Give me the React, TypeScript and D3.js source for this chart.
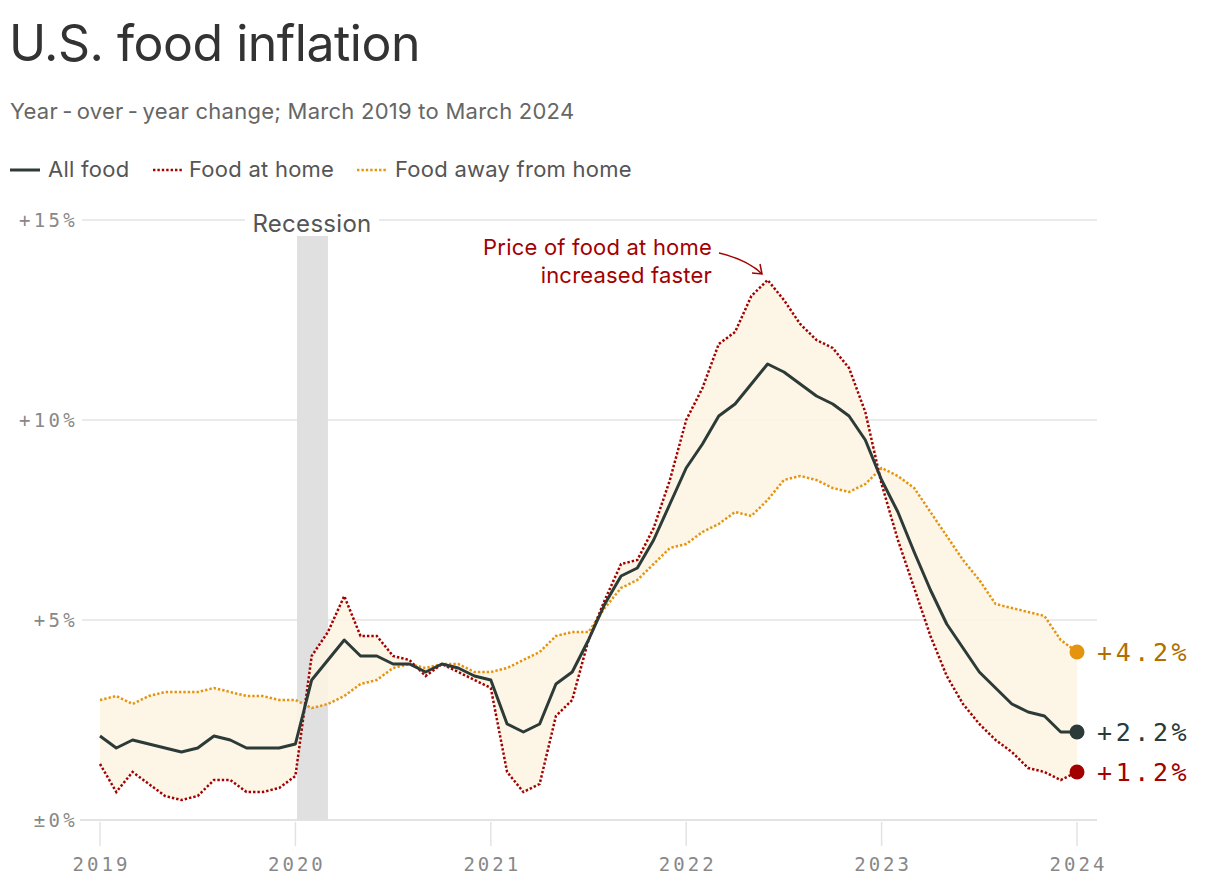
import React from "react";
import * as d3 from "d3";

const years = ["2019", "2020", "2021", "2022", "2023", "2024"];
const yTicks = [0, 5, 10, 15];
const yTickLabels = ["±0%", "+5%", "+10%", "+15%"];

// monthly, Jan 2019 .. Jan 2024 (61 points)
const allFood = [
  2.1, 1.8, 2.0, 1.9, 1.8, 1.7, 1.8, 2.1, 2.0, 1.8, 1.8, 1.8,
  1.9, 3.5, 4.0, 4.5, 4.1, 4.1, 3.9, 3.9, 3.7, 3.9, 3.8, 3.6,
  3.5, 2.4, 2.2, 2.4, 3.4, 3.7, 4.5, 5.4, 6.1, 6.3, 7.0, 7.9,
  8.8, 9.4, 10.1, 10.4, 10.9, 11.4, 11.2, 10.9, 10.6, 10.4, 10.1, 9.5,
  8.5, 7.7, 6.7, 5.75, 4.9, 4.3, 3.7, 3.3, 2.9, 2.7, 2.6, 2.2,
  2.2,
];
const foodAtHome = [
  1.4, 0.7, 1.2, 0.9, 0.6, 0.5, 0.6, 1.0, 1.0, 0.7, 0.7, 0.8,
  1.1, 4.1, 4.7, 5.6, 4.6, 4.6, 4.1, 4.0, 3.6, 3.9, 3.7, 3.5,
  3.3, 1.2, 0.7, 0.9, 2.6, 3.0, 4.5, 5.5, 6.4, 6.5, 7.3, 8.5,
  10.0, 10.8, 11.9, 12.2, 13.1, 13.5, 13.0, 12.4, 12.0, 11.8, 11.3, 10.2,
  8.4, 7.0, 5.8, 4.6, 3.6, 2.9, 2.4, 2.0, 1.7, 1.3, 1.2, 1.0,
  1.2,
];
const foodAway = [
  3.0, 3.1, 2.9, 3.1, 3.2, 3.2, 3.2, 3.3, 3.2, 3.1, 3.1, 3.0,
  3.0, 2.8, 2.9, 3.1, 3.4, 3.5, 3.8, 3.9, 3.8, 3.9, 3.9, 3.7,
  3.7, 3.8, 4.0, 4.2, 4.6, 4.7, 4.7, 5.3, 5.8, 6.0, 6.4, 6.8,
  6.9, 7.2, 7.4, 7.7, 7.6, 8.0, 8.5, 8.6, 8.5, 8.3, 8.2, 8.4,
  8.8, 8.6, 8.3, 7.7, 7.1, 6.5, 6.0, 5.4, 5.3, 5.2, 5.1, 4.5,
  4.2,
];
const seriesNames = ["All food", "Food at home", "Food away from home"];
const endLabels = ["+2.2%", "+1.2%", "+4.2%"];
const recession = [12.1, 14]; // month indices

const C_ALL = "#2c3b37";
const C_HOME = "#a30000";
const C_AWAY = "#e5940f";
const C_AWAY_TXT = "#b36e00";
const C_FILL = "#fdf3e2";

const sans = "Inter, 'Open Sans', sans-serif";
const mono = "'DejaVu Sans Mono', 'Liberation Mono', monospace";

export default function App() {
  const x = d3.scaleLinear().domain([0, 60]).range([100, 1077]);
  const y = d3.scaleLinear().domain([0, 15]).range([820, 220]);
  const idx = d3.range(61);

  const line = (arr: number[]) =>
    d3.line<number>().x((i) => x(i)).y((i) => y(arr[i]))(idx) as string;
  const area = d3
    .area<number>()
    .x((i) => x(i))
    .y0((i) => y(foodAtHome[i]))
    .y1((i) => y(foodAway[i]))(idx) as string;

  const dotted = { strokeDasharray: "2.4 2", strokeWidth: 2.5, fill: "none" };
  const legendFont = { fontFamily: sans, fontSize: 22, fill: "#555", letterSpacing: 0.25 };

  return (
    <svg
      width={1220}
      height={888}
      style={{ position: "absolute", left: 0, top: 0, background: "#fff" }}
    >
      <text x={9} y={61} fontFamily={sans} fontSize={50} fill="#333" letterSpacing={-0.5}>
        U.S. food inflation
      </text>
      <text x={10} y={119} fontFamily={sans} fontSize={22} fill="#666" letterSpacing={0.25}>
        {"Year\u2009-\u2009over\u2009-\u2009year change; March 2019 to March 2024"}
      </text>

      {/* legend */}
      <line x1={10} x2={40} y1={170} y2={170} stroke={C_ALL} strokeWidth={3} />
      <text x={48} y={177} {...legendFont}>
        {seriesNames[0]}
      </text>
      <line x1={153} x2={182} y1={170} y2={170} stroke={C_HOME} {...dotted} />
      <text x={189} y={177} {...legendFont}>
        {seriesNames[1]}
      </text>
      <line x1={357} x2={386} y1={170} y2={170} stroke={C_AWAY} {...dotted} />
      <text x={395} y={177} {...legendFont}>
        {seriesNames[2]}
      </text>

      {/* gridlines */}
      {yTicks.map((t, i) => (
        <g key={t}>
          <line
            x1={i === 0 ? 80 : 82}
            x2={1097}
            y1={y(t)}
            y2={y(t)}
            stroke="#e3e3e3"
            strokeWidth={t === 0 ? 2 : 1.5}
          />
          <rect x={8} y={y(t) - 12} width={70} height={22} fill="#fff" />
          <text
            x={78}
            y={y(t) + 7}
            textAnchor="end"
            fontFamily={mono}
            fontSize={19}
            fill="#888"
            letterSpacing={3.3}
          >
            {yTickLabels[i]}
          </text>
        </g>
      ))}

      {/* recession */}
      <rect
        x={x(recession[0])}
        y={236}
        width={x(recession[1]) - x(recession[0])}
        height={820 - 236}
        fill="#e0e0e0"
      />
      <rect x={245} y={208} width={134} height={26} fill="#fff" />
      <text x={312} y={232} textAnchor="middle" fontFamily={sans} fontSize={24} fill="#555" letterSpacing={0.3}>
        Recession
      </text>

      {/* x ticks */}
      {years.map((yr, i) => (
        <g key={yr}>
          <line x1={x(i * 12)} x2={x(i * 12)} y1={822} y2={846} stroke="#e3e3e3" strokeWidth={1.5} />
          <text
            x={x(i * 12) + 1.5}
            y={871}
            textAnchor="middle"
            fontFamily={mono}
            fontSize={19}
            fill="#888"
            letterSpacing={3}
          >
            {yr}
          </text>
        </g>
      ))}

      {/* band */}
      <path d={area} fill={C_FILL} opacity={0.85} />

      {/* lines */}
      <path d={line(foodAway)} stroke={C_AWAY} {...dotted} />
      <path d={line(foodAtHome)} stroke={C_HOME} {...dotted} />
      <path d={line(allFood)} stroke={C_ALL} strokeWidth={3} fill="none" strokeLinejoin="round" />

      {/* end points */}
      <circle cx={x(60)} cy={y(foodAway[60])} r={7.5} fill={C_AWAY} />
      <circle cx={x(60)} cy={y(allFood[60])} r={7.5} fill={C_ALL} />
      <circle cx={x(60)} cy={y(foodAtHome[60])} r={7.5} fill={C_HOME} />
      <text x={1097} y={y(foodAway[60]) + 9} fontFamily={mono} fontSize={25} fill={C_AWAY_TXT} letterSpacing={3.6}>
        {endLabels[2]}
      </text>
      <text x={1097} y={y(allFood[60]) + 9} fontFamily={mono} fontSize={25} fill={C_ALL} letterSpacing={3.6}>
        {endLabels[0]}
      </text>
      <text x={1097} y={y(foodAtHome[60]) + 9} fontFamily={mono} fontSize={25} fill={C_HOME} letterSpacing={3.6}>
        {endLabels[1]}
      </text>

      {/* annotation */}
      <text x={712} y={255} textAnchor="end" fontFamily={sans} fontSize={22} fill={C_HOME} letterSpacing={0.2}>
        Price of food at home
      </text>
      <text x={712} y={283} textAnchor="end" fontFamily={sans} fontSize={22} fill={C_HOME} letterSpacing={0.2}>
        increased faster
      </text>
      <path d="M719,253 Q748,260 762,274" fill="none" stroke={C_HOME} strokeWidth={1.5} />
      <path d="M752,273 L762,274 L760,264" fill="none" stroke={C_HOME} strokeWidth={1.5} />
    </svg>
  );
}
